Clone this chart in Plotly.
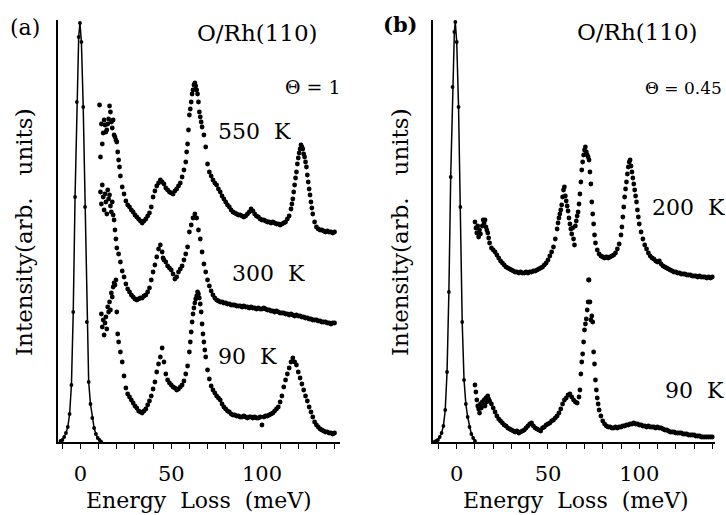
import plotly.graph_objects as go

W, H = 726, 515

# ---------------- Panel (a): O/Rh(110), Theta = 1 ----------------
elastic_a_E = [-11, -10, -9, -8, -7, -6, -5, -4, -3, -2, -1, -0.3,
               0.5, 1.5, 2.5, 3.5, 4.5, 5.5, 6.5, 7.5, 8.5, 9.5, 10.5, 11.5]
elastic_a_I = [1, 2, 5, 9, 15, 28, 57, 130, 245, 340, 405, 419,
               400, 335, 235, 120, 60, 38, 24, 14, 8, 4, 2, 0]

a550_E = [10.5, 11, 11.5, 12, 12.5, 13, 13.5, 14, 14.5, 15,
          15.5, 16, 16.5, 17, 17.5, 18, 18.5, 19, 19.5, 20,
          20.5, 21, 21.5, 22, 23, 24, 25, 26, 27, 28,
          29, 30, 31, 32, 33, 34, 35, 36, 37, 38,
          39, 40, 41, 42, 43, 44, 45, 46, 47, 48,
          49, 50, 51, 52, 53, 54, 55, 56, 57, 58,
          58.5, 59, 59.5, 60, 60.5, 61, 61.5, 62, 62.5, 63,
          63.5, 64, 64.5, 65, 65.5, 66, 66.5, 67, 68, 69,
          70, 71, 72, 73, 74, 75, 76, 77, 78, 79,
          80, 81, 82, 83, 84, 85, 86, 87, 88, 89,
          90, 91, 92, 93, 94, 95, 96, 97, 98, 99,
          100, 101, 102, 103, 104, 105, 106, 107, 108, 109,
          110, 111, 112, 113, 114, 115, 116, 116.5, 117, 117.5,
          118, 118.5, 119, 119.5, 120, 120.5, 121, 121.5, 122, 122.5,
          123, 123.5, 124, 124.5, 125, 125.5, 126, 126.5, 127, 127.5,
          128, 129, 130, 131, 132, 133, 134, 135, 136, 137,
          138, 139, 140]
a550_I = [337, 285, 318, 298, 309, 322, 317, 310, 312, 318,
          323, 336, 330, 320, 314, 322, 307, 305, 302, 300,
          290, 282, 275, 266, 255, 248, 241, 237, 235, 232,
          230, 227, 225, 223, 221, 219, 221, 223, 226, 229,
          235, 245, 251, 256, 259, 262, 260, 258, 254, 252,
          250, 249, 248, 251, 253, 256, 259, 265, 272, 280,
          290, 298, 312, 327, 333, 340, 348, 352, 357, 359,
          356, 352, 348, 340, 330, 325, 320, 315, 307, 295,
          278, 270, 266, 262, 259, 257, 253, 250, 246, 243,
          240, 237, 235, 232, 230, 229, 228, 227, 227, 226,
          225, 226, 228, 230, 233, 231, 228, 226, 225, 223,
          222, 222, 221, 220, 220, 219, 220, 219, 218, 218,
          217, 218, 219, 220, 223, 226, 233, 238, 243, 250,
          257, 264, 270, 278, 284, 289, 293, 297, 295, 293,
          288, 285, 280, 275, 267, 260, 253, 247, 240, 234,
          228, 220, 215, 213, 212, 212, 211, 210, 211, 210,
          210, 209, 210]

a300_E = [11, 11.5, 12, 12.5, 13, 13.5, 14, 14.5, 15, 15.5,
          16, 16.5, 17, 17.5, 18, 18.5, 19, 19.5, 20, 21,
          22, 23, 24, 25, 26, 27, 28, 29, 30, 31,
          32, 33, 34, 35, 36, 37, 38, 39, 40, 41,
          42, 43, 44, 45, 45.5, 46, 47, 48, 49, 50,
          51, 52, 53, 54, 55, 56, 57, 58, 59, 60,
          61, 62, 63, 64, 65, 66, 67, 68, 69, 70,
          71, 72, 73, 74, 75, 76, 77, 78, 79, 80,
          81, 82, 83, 84, 85, 86, 87, 88, 89, 90,
          91, 92, 93, 94, 95, 96, 97, 98, 99, 100,
          101, 102, 103, 104, 105, 106, 107, 108, 109, 110,
          111, 112, 113, 114, 115, 116, 117, 118, 119, 120,
          121, 122, 123, 124, 125, 126, 127, 128, 129, 130,
          131, 132, 133, 134, 135, 136, 137, 138, 139, 140]
a300_I = [250, 238, 257, 245, 232, 248, 240, 228, 252, 243,
          247, 236, 230, 240, 227, 222, 212, 203, 194, 188,
          180, 171, 165, 158, 153, 150, 147, 145, 143, 142,
          143, 144, 144, 146, 147, 150, 154, 162, 170, 177,
          185, 193, 197, 190, 184, 182, 180, 176, 174, 172,
          168, 163, 165, 170, 173, 176, 182, 188, 195, 210,
          217, 224, 228, 224, 212, 203, 190, 178, 170, 162,
          156, 151, 147, 144, 142, 141, 140, 140, 139, 139,
          138, 138, 137, 137, 137, 136, 136, 136, 135, 136,
          135, 135, 134, 135, 134, 134, 133, 134, 133, 133,
          134, 133, 132, 132, 131, 131, 130, 131, 130, 129,
          129, 129, 128, 128, 127, 128, 127, 126, 127, 126,
          126, 125, 125, 124, 124, 123, 123, 122, 122, 122,
          121, 121, 120, 120, 120, 119, 119, 118, 119, 119]

a90_E = [11.5, 12, 12.5, 13, 13.5, 14, 14.5, 15, 15.5, 16,
         16.5, 17, 17.5, 18, 18.5, 19, 19.5, 20, 20.5, 21,
         22, 23, 24, 25, 26, 27, 28, 29, 30, 31,
         32, 33, 34, 35, 36, 37, 38, 39, 40, 41,
         42, 43, 44, 45, 46, 47, 48, 49, 50, 51,
         52, 53, 54, 55, 56, 57, 58, 59, 60, 60.5,
         61, 61.5, 62, 62.5, 63, 63.5, 64, 64.5, 65, 65.5,
         66, 66.5, 67, 67.5, 68, 68.5, 69, 70, 71, 72,
         73, 74, 75, 76, 77, 78, 79, 80, 81, 82,
         83, 84, 85, 86, 87, 88, 89, 90, 91, 92,
         93, 94, 95, 96, 97, 98, 99, 100, 101, 102,
         103, 104, 105, 106, 107, 108, 109, 110, 111, 112,
         113, 114, 115, 116, 117, 118, 119, 120, 121, 122,
         123, 124, 125, 126, 127, 128, 129, 130, 131, 132,
         133, 134, 135, 136, 137, 138, 139, 140]
a90_I = [128, 115, 122, 107, 119, 125, 113, 135, 130, 140,
         132, 149, 145, 155, 159, 157, 162, 130, 108, 100,
         90, 80, 66, 54, 48, 45, 42, 39, 36, 34,
         31, 30, 29, 31, 33, 37, 41, 46, 53, 60,
         70, 78, 85, 94, 80, 68, 62, 59, 57, 55,
         54, 52, 53, 55, 57, 61, 68, 76, 90, 100,
         110, 120, 128, 134, 139, 143, 146, 150, 148, 144,
         138, 130, 118, 108, 100, 92, 85, 72, 63, 56,
         52, 49, 46, 44, 42, 38, 35, 33, 31, 30,
         28, 27, 27, 26, 26, 25, 25, 26, 25, 24,
         25, 25, 24, 25, 24, 24, 25, 17, 25, 26,
         26, 27, 28, 29, 31, 33, 35, 40, 46, 55,
         62, 68, 74, 80, 84, 80, 77, 70, 64, 58,
         52, 46, 41, 35, 30, 25, 20, 17, 15, 13,
         12, 11, 10, 10, 9, 9, 8, 9]

# ---------------- Panel (b): O/Rh(110), Theta = 0.45 ----------------
elastic_b_E = [-12.3, -11.3, -10.3, -9.3, -8.3, -7.3, -6.3, -5.3, -4.3, -3.3, -2.3, -1.3,
               -0.8, 0, 1, 2, 3, 4, 5, 6, 7, 8, 9, 10]
elastic_b_I = [0, 1, 2, 5, 9, 16, 32, 70, 150, 265, 355, 410,
               420, 400, 335, 235, 120, 62, 38, 25, 15, 8, 4, 1]

b200_E = [10, 10.5, 11, 11.5, 12, 12.5, 13, 14, 14.5, 15,
          15.5, 16, 16.5, 17, 17.5, 18, 19, 20, 21, 22,
          23, 24, 25, 26, 27, 28, 29, 30, 31, 32,
          33, 34, 35, 36, 37, 38, 39, 40, 41, 42,
          43, 44, 45, 46, 47, 48, 49, 50, 51, 52,
          53, 54, 55, 55.5, 56, 56.5, 57, 57.5, 58, 58.5,
          59, 59.5, 60, 60.5, 61, 61.5, 62, 62.5, 63, 63.5,
          64, 64.5, 65, 65.5, 66, 66.5, 67, 67.5, 68, 68.5,
          69, 69.5, 70, 70.5, 71, 71.5, 72, 72.2, 72.5, 73,
          73.5, 74, 74.5, 75, 75.5, 76, 77, 78, 79, 80,
          81, 82, 83, 84, 85, 86, 87, 88, 89, 90,
          90.5, 91, 91.5, 92, 92.5, 93, 93.5, 94, 94.5, 95,
          95.5, 96, 96.5, 97, 97.5, 98, 98.5, 99, 99.5, 100,
          101, 102, 103, 104, 105, 106, 107, 108, 109, 110,
          111, 112, 113, 114, 115, 116, 117, 118, 119, 120,
          121, 122, 123, 124, 125, 126, 127, 128, 129, 130,
          131, 132, 133, 134, 135, 136, 137, 138, 139, 140]
b200_I = [220, 214, 209, 216, 205, 212, 208, 216, 222, 219,
          222, 215, 212, 209, 204, 199, 194, 192, 190, 187,
          184, 181, 179, 177, 175, 174, 173, 172, 171, 170,
          170, 169, 170, 169, 169, 170, 169, 170, 170, 171,
          171, 172, 173, 174, 175, 177, 179, 182, 186, 190,
          195, 203, 213, 219, 224, 228, 232, 237, 245, 252,
          255, 246, 241, 236, 231, 224, 218, 213, 208, 214,
          203, 197, 216, 221, 226, 230, 238, 248, 260, 272,
          280, 287, 292, 295, 290, 287, 285, 162, 282, 270,
          258, 240, 228, 218, 207, 199, 192, 188, 186, 185,
          184, 185, 184, 185, 186, 187, 189, 193, 198, 207,
          215, 225, 235, 245, 253, 260, 268, 275, 280, 282,
          276, 270, 264, 258, 252, 246, 240, 232, 225, 218,
          210, 203, 197, 193, 189, 186, 184, 183, 181, 180,
          181, 178, 176, 175, 174, 173, 172, 171, 170, 170,
          169, 169, 168, 168, 168, 167, 167, 167, 166, 166,
          166, 165, 166, 165, 165, 165, 164, 165, 164, 165]

b90_E = [10, 10.5, 11, 11.5, 12, 12.5, 13, 13.5, 14, 14.5,
         15, 15.5, 16, 16.5, 17, 17.5, 18, 19, 20, 21,
         22, 23, 24, 25, 26, 27, 28, 29, 30, 31,
         32, 33, 34, 35, 36, 37, 38, 39, 40, 41,
         42, 43, 44, 45, 46, 47, 48, 49, 50, 51,
         52, 53, 54, 55, 56, 57, 58, 59, 60, 61,
         62, 63, 64, 65, 66, 67, 67.5, 68, 68.5, 69,
         69.5, 70, 70.5, 71, 71.5, 72, 72.5, 73, 73.5, 74,
         74.5, 75, 75.5, 76, 76.5, 77, 77.5, 78, 79, 80,
         81, 82, 83, 84, 85, 86, 87, 88, 89, 90,
         91, 92, 93, 94, 95, 96, 97, 98, 99, 100,
         101, 102, 103, 104, 105, 106, 107, 108, 109, 110,
         111, 112, 113, 114, 115, 116, 117, 118, 119, 120,
         121, 122, 123, 124, 125, 126, 127, 128, 129, 130,
         131, 132, 133, 134, 135, 136, 137, 138, 139, 140]
b90_I = [57, 50, 42, 36, 33, 29, 38, 34, 40, 37,
         42, 36, 44, 40, 46, 43, 41, 38, 34, 30,
         26, 23, 21, 19, 17, 16, 14, 13, 12, 11,
         10, 11, 9, 10, 11, 12, 14, 16, 18, 19,
         16, 14, 13, 12, 11, 14, 15, 17, 18, 19,
         21, 22, 24, 26, 29, 33, 38, 42, 44, 47,
         48, 45, 42, 40, 39, 45, 52, 68, 80, 88,
         100, 112, 118, 123, 132, 140, 162, 140, 122, 126,
         120, 90, 78, 62, 52, 44, 38, 32, 26, 21,
         18, 16, 15, 15, 14, 14, 15, 14, 15, 15,
         16, 16, 17, 17, 18, 18, 19, 18, 18, 17,
         17, 16, 16, 15, 16, 15, 15, 15, 14, 15,
         14, 14, 13, 12, 12, 11, 10, 10, 10, 9,
         9, 9, 9, 8, 8, 8, 7, 7, 7, 7,
         6, 6, 6, 5, 5, 5, 5, 5, 5, 5]

x_ticks = [0, 50, 100]
x_tick_labels = ["0", "50", "100"]

FONT = "DejaVu Serif"
BLACK = "#000000"

fig = go.Figure()

def elastic(E, I, xa, ya):
    fig.add_trace(go.Scatter(x=E, y=I, xaxis=xa, yaxis=ya, mode="lines+markers",
                             line=dict(color=BLACK, width=1.5),
                             marker=dict(color=BLACK, size=3.8),
                             showlegend=False, hoverinfo="skip"))

def loss(E, I, xa, ya):
    fig.add_trace(go.Scatter(x=E, y=I, xaxis=xa, yaxis=ya, mode="markers",
                             marker=dict(color=BLACK, size=4.8, line=dict(width=0)),
                             showlegend=False, hoverinfo="skip"))

elastic(elastic_a_E, elastic_a_I, "x", "y")
loss(a550_E, a550_I, "x", "y")
loss(a300_E, a300_I, "x", "y")
loss(a90_E, a90_I, "x", "y")
elastic(elastic_b_E, elastic_b_I, "x2", "y2")
loss(b200_E, b200_I, "x2", "y2")
loss(b90_E, b90_I, "x2", "y2")

def xaxis(domain, rng, anchor):
    return dict(domain=domain, range=rng, anchor=anchor,
                showline=True, linecolor=BLACK, linewidth=1.6,
                ticks="outside", ticklen=5, tickwidth=1.2, tickcolor=BLACK,
                tickvals=x_ticks, ticktext=x_tick_labels,
                minor=dict(dtick=10, tick0=0, ticks="outside", ticklen=5,
                           tickwidth=1.0, tickcolor=BLACK, showgrid=False),
                showgrid=False, zeroline=False,
                tickfont=dict(family=FONT, size=21, color=BLACK),
                ticklabelstandoff=7)

def yaxis(domain, anchor):
    return dict(domain=domain, range=[0, 422], anchor=anchor,
                showline=True, linecolor=BLACK, linewidth=1.6,
                showticklabels=False, ticks="", showgrid=False, zeroline=False)

ydom = [73 / H, 495 / H]
fig.update_layout(
    width=W, height=H,
    margin=dict(l=0, r=0, t=0, b=0),
    paper_bgcolor="white", plot_bgcolor="white",
    showlegend=False,
    xaxis=xaxis([58 / W, 340 / W], [-12.4, 143.0], "y"),
    yaxis=yaxis(ydom, "x"),
    xaxis2=xaxis([433 / W, 715 / W], [-13.0, 141.5], "y2"),
    yaxis2=yaxis(ydom, "x2"),
)

def note(text, px, py, size, angle=0):
    fig.add_annotation(text=text, xref="paper", yref="paper",
                       x=px / W, y=1 - py / H, xanchor="center", yanchor="middle",
                       showarrow=False, textangle=angle,
                       font=dict(family=FONT, size=size, color=BLACK))

note("(a)", 25, 27, 22)
note("<b>(b)</b>", 400, 25, 21)
note("O/Rh(110)", 257, 33, 23)
note("O/Rh(110)", 637, 32, 23)
note("\u0398 = 1", 313, 87, 19)
note("\u0398 = 0.45", 683, 88, 17)
note("550\u00a0 K", 254, 131, 22)
note("300\u00a0 K", 268, 273, 22)
note("90\u00a0 K", 247, 356, 22)
note("200\u00a0 K", 688, 207, 22)
note("90\u00a0 K", 694, 390, 22)
note("Energy\u00a0 Loss\u00a0 (meV)", 199, 500, 22)
note("Energy\u00a0 Loss\u00a0 (meV)", 576, 500, 22)
note("Intensity(arb.\u00a0\u00a0 units)", 24, 232, 23, -90)
note("Intensity(arb.\u00a0\u00a0 units)", 400, 232, 23, -90)

fig.write_html("out.html", config={"displayModeBar": False},
               post_script="document.body.style.margin='0';document.body.style.overflow='hidden';")
